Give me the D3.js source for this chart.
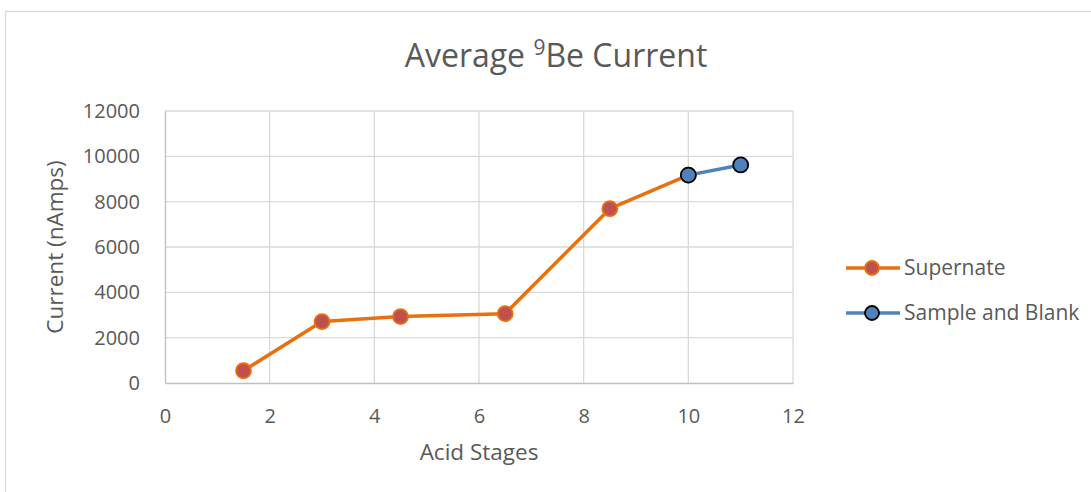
<!DOCTYPE html>
<html>
<head>
<meta charset="utf-8">
<script src="https://cdn.jsdelivr.net/npm/d3@7"></script>
<style>
  html, body { margin: 0; padding: 0; background: #fff; }
  svg text { font-family: "Open Sans", "Liberation Sans", sans-serif; }
</style>
</head>
<body>
<svg id="chart" width="1091" height="492"></svg>
<script>
// Acid stage positions and average currents (nAmps)
const supernateX = [1.5, 3, 4.5, 6.5, 8.5, 10];
const supernateY = [540, 2710, 2930, 3060, 7690, 9170];
const sampleBlankX = [10, 11];
const sampleBlankY = [9170, 9620];
const xTicks = [0, 2, 4, 6, 8, 10, 12];
const yTicks = [0, 2000, 4000, 6000, 8000, 10000, 12000];
const seriesNames = ["Supernate", "Sample and Blank"];

const svg = d3.select("#chart");
const W = 1091, H = 492;
const plot = { left: 165, right: 793, top: 111, bottom: 383 };

// chart frame
svg.append("rect")
  .attr("x", 5.5).attr("y", 11.5)
  .attr("width", W + 10).attr("height", H + 10)
  .attr("fill", "#fff").attr("stroke", "#d9d9d9").attr("stroke-width", 1.3);

const x = d3.scaleLinear().domain([0, 12]).range([plot.left, plot.right]);
const y = d3.scaleLinear().domain([0, 12000]).range([plot.bottom, plot.top]);

// gridlines
const grid = svg.append("g");
grid.selectAll("line.h").data(yTicks.filter(d => d > 0)).join("line")
  .attr("x1", plot.left).attr("x2", plot.right)
  .attr("y1", d => y(d)).attr("y2", d => y(d))
  .attr("stroke", "#d9d9d9").attr("stroke-width", 1.3);
grid.selectAll("line.v").data(xTicks.filter(d => d > 0)).join("line")
  .attr("y1", plot.top).attr("y2", plot.bottom)
  .attr("x1", d => x(d)).attr("x2", d => x(d))
  .attr("stroke", "#d9d9d9").attr("stroke-width", 1.3);

// axes
const xAxis = d3.axisBottom(x).tickValues(xTicks).tickSize(0).tickPadding(26).tickFormat(d3.format("d"));
const gx = svg.append("g").attr("transform", `translate(0,${plot.bottom})`).call(xAxis);
gx.select(".domain").attr("stroke", "#bfbfbf").attr("stroke-width", 1.3);
gx.selectAll("text").attr("fill", "#595959").attr("font-size", 20);

const yAxis = d3.axisLeft(y).tickValues(yTicks).tickSize(0).tickPadding(25).tickFormat(d3.format("d"));
const gy = svg.append("g").attr("transform", `translate(${plot.left},0)`).call(yAxis);
gy.select(".domain").attr("stroke", "#bfbfbf").attr("stroke-width", 1.3);
gy.selectAll("text").attr("fill", "#595959").attr("font-size", 20);

// axis titles
svg.append("text")
  .attr("x", 479).attr("y", 460)
  .attr("text-anchor", "middle").attr("fill", "#595959").attr("font-size", 22.5)
  .text("Acid Stages");
svg.append("text")
  .attr("transform", `translate(63,247) rotate(-90)`)
  .attr("text-anchor", "middle").attr("fill", "#595959").attr("font-size", 22.5)
  .text("Current (nAmps)");

// title
const title = svg.append("text")
  .attr("x", 556).attr("y", 67)
  .attr("text-anchor", "middle").attr("fill", "#595959").attr("font-size", 32);
title.append("tspan").text("Average ");
title.append("tspan").attr("font-size", 21).attr("dy", -12).text("9");
title.append("tspan").attr("dy", 12).text("Be Current");

const line = d3.line().x(d => x(d[0])).y(d => y(d[1]));

const styles = [
  { stroke: "#e8700f", fill: "#c0504d", mstroke: "#e8700f" },
  { stroke: "#4f81bd", fill: "#4f81bd", mstroke: "#000" }
];
const series = [
  d3.zip(supernateX, supernateY),
  d3.zip(sampleBlankX, sampleBlankY)
];

series.forEach((pts, i) => {
  const s = styles[i];
  svg.append("path").datum(pts)
    .attr("d", line).attr("fill", "none")
    .attr("stroke", s.stroke).attr("stroke-width", 3.5)
    .attr("stroke-linejoin", "round");
});
series.forEach((pts, i) => {
  const s = styles[i];
  svg.append("g").selectAll("circle").data(pts).join("circle")
    .attr("cx", d => x(d[0])).attr("cy", d => y(d[1])).attr("r", 7.5)
    .attr("fill", s.fill).attr("stroke", s.mstroke).attr("stroke-width", 1.8);
});

// legend
const legend = svg.append("g");
seriesNames.forEach((name, i) => {
  const s = styles[i];
  const ly = 268 + i * 45;
  legend.append("line")
    .attr("x1", 846).attr("x2", 900).attr("y1", ly).attr("y2", ly)
    .attr("stroke", s.stroke).attr("stroke-width", 3.5);
  legend.append("circle")
    .attr("cx", 872).attr("cy", ly).attr("r", 7)
    .attr("fill", s.fill).attr("stroke", s.mstroke).attr("stroke-width", 1.8);
  legend.append("text")
    .attr("x", 904).attr("y", ly + 7)
    .attr("fill", "#595959").attr("font-size", 21)
    .text(name);
});
</script>
</body>
</html>
